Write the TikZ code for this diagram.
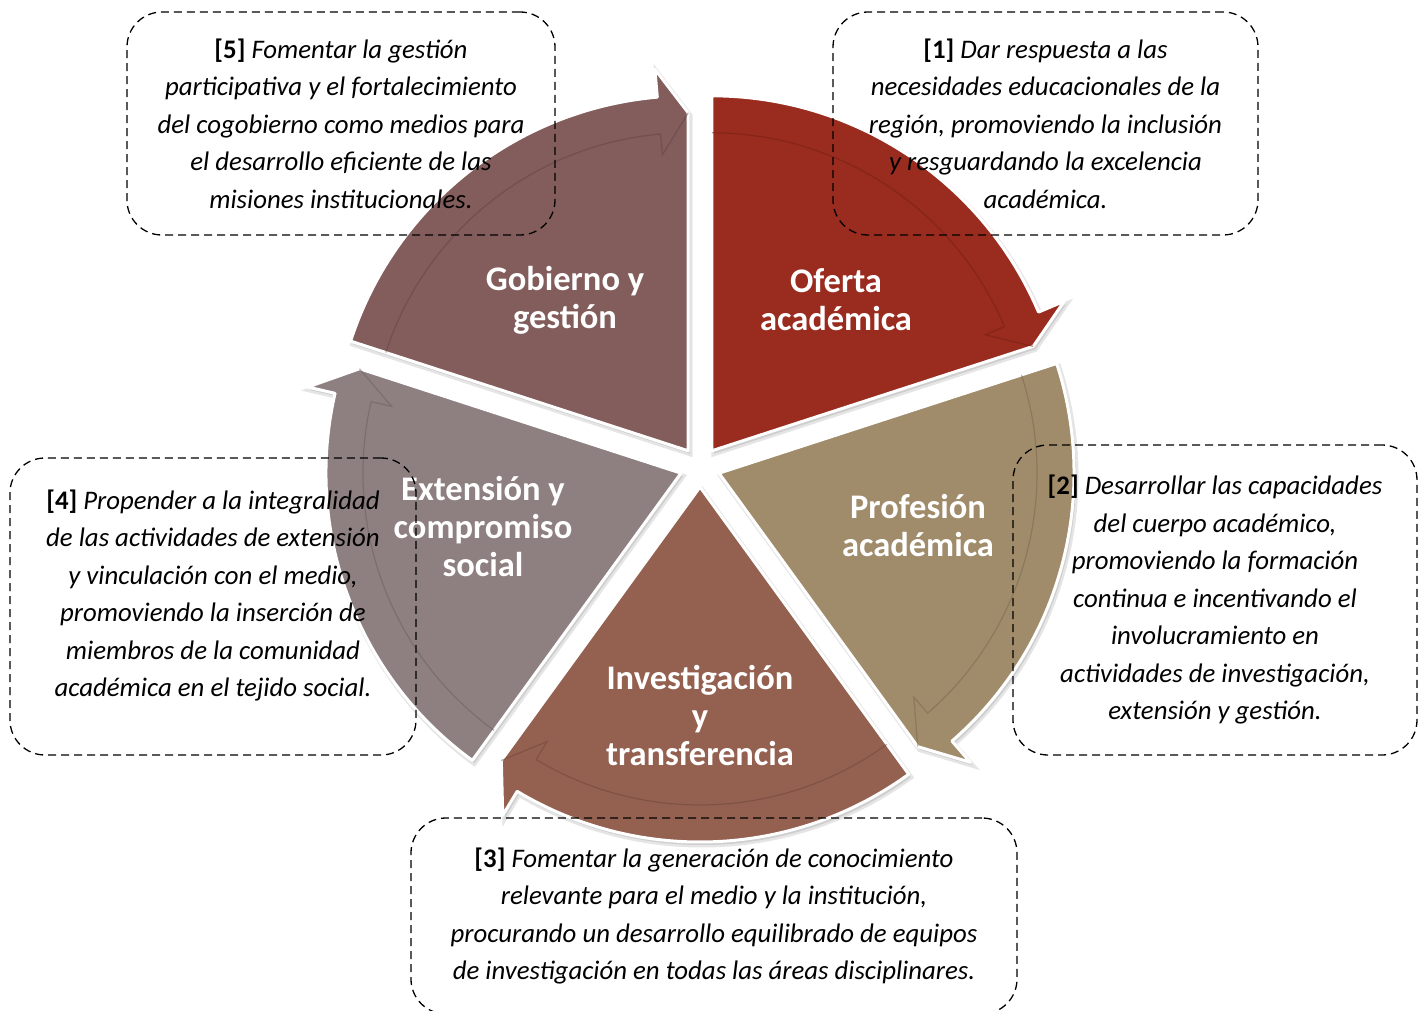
\documentclass[tikz,border=0pt]{standalone}
\usepackage{fontspec}
\setmainfont{Carlito}

% one segment of the wheel: colour, start angle, end angle (clockwise)
\newcommand{\segmento}[3]{%
  \begin{scope}[shift={({(#2+#3)/2}:20)}]
    \filldraw[black, opacity=0.10, line width=5, shift={(2,-3)}]
      (0,0) -- (#2:355) arc[start angle=#2, end angle={#3+5}, radius=355]
      -- ({#3+5}:383) -- (#3:338) -- cycle;
    \filldraw[fill=#1, draw=white, line width=3, line join=round]
      (0,0) -- (#2:355) arc[start angle=#2, end angle={#3+5}, radius=355]
      -- ({#3+5}:383) -- (#3:338) -- cycle;
    \draw[#1!70!black, opacity=0.45, line width=1.2]
      (#2:318) arc[start angle=#2, end angle={#3+5}, radius=318]
      -- ({#3+5}:297) -- (#3:338);
  \end{scope}}

\definecolor{oferta}{RGB}{154,43,31}
\definecolor{profesion}{RGB}{160,140,106}
\definecolor{investig}{RGB}{148,96,80}
\definecolor{extension}{RGB}{142,128,128}
\definecolor{gobierno}{RGB}{131,92,92}

\begin{document}
\begin{tikzpicture}[x=1pt, y=1pt,
    segtext/.style={text=white, align=center, font=\bfseries\fontsize{34.5}{38}\selectfont},
    objtexto/.style={align=center, inner sep=0, font=\itshape\fontsize{26.8}{37.5}\selectfont},
    objetivo/.style={objtexto, draw, dashed, dash pattern=on 8 off 5, line width=1.3,
      rounded corners=35}]
    \useasboundingbox (-700,-543) rectangle (726,467);

    \segmento{oferta}{90}{18}
    \segmento{profesion}{18}{-54}
    \segmento{investig}{-54}{-126}
    \segmento{extension}{-126}{-198}
    \segmento{gobierno}{162}{90}

    \node[segtext] (oferta) at (136,167) {Oferta\\académica};
    \node[segtext] (profesion) at (218,-59) {Profesión\\académica};
    \node[segtext] (investig) at (0,-248) {Investigación\\y\\transferencia};
    \node[segtext] (extension) at (-217,-60) {Extensión y\\compromiso\\social};
    \node[segtext] (gobierno) at (-135,167) {Gobierno y\\gestión};

    \node[objetivo, minimum width=425, minimum height=223] (obj1) at (345.5,343.5)
      {{\upshape\bfseries [1]} Dar respuesta a las\\necesidades educacionales de la\\región, promoviendo la inclusión\\y resguardando la excelencia\\académica.};
    \node[objetivo, minimum width=404, minimum height=310] (obj2) at (515,-133)
      {{\upshape\bfseries [2]} Desarrollar las capacidades\\del cuerpo académico,\\promoviendo la formación\\continua e incentivando el\\involucramiento en\\actividades de investigación,\\extensión y gestión.};
    \node[objetivo, minimum width=606, minimum height=196] (obj3) at (14,-449)
      {{\upshape\bfseries [3]} Fomentar la generación de conocimiento\\relevante para el medio y la institución,\\procurando un desarrollo equilibrado de equipos\\de investigación en todas las áreas disciplinares.};
    \node[objetivo, minimum width=406, minimum height=297] (obj4) at (-487,-139.5) {};
    \node[objtexto] (obj4texto) at (-487,-128.5)
      {{\upshape\bfseries [4]} Propender a la integralidad\\de las actividades de extensión\\y vinculación con el medio,\\promoviendo la inserción de\\miembros de la comunidad\\académica en el tejido social.};
    \node[objetivo, minimum width=428, minimum height=223] (obj5) at (-359,343.5)
      {{\upshape\bfseries [5]} Fomentar la gestión\\participativa y el fortalecimiento\\del cogobierno como medios para\\el desarrollo eficiente de las\\misiones institucionales.};
\end{tikzpicture}
\end{document}
